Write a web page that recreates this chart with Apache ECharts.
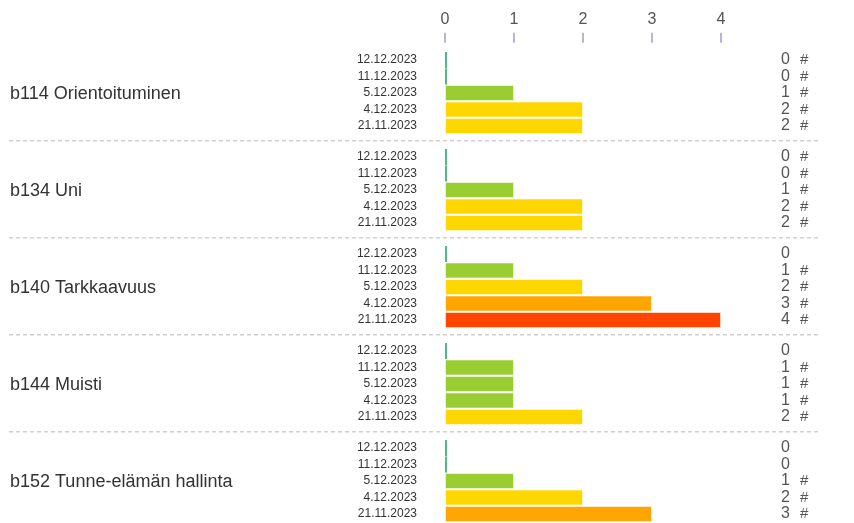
<!DOCTYPE html>
<html>
<head>
<meta charset="utf-8">
<script src="https://cdn.jsdelivr.net/npm/echarts@6/dist/echarts.min.js"></script>
<style>html,body{margin:0;padding:0;background:#fff;}#c{width:854px;height:523px;}</style>
</head>
<body>
<div id="c"></div>
<script>
const groupNames = ['b114 Orientoituminen','b134 Uni','b140 Tarkkaavuus','b144 Muisti','b152 Tunne-elämän hallinta'];
const dates = ['12.12.2023','11.12.2023','5.12.2023','4.12.2023','21.11.2023'];
const values = [
  [0,0,1,2,2],
  [0,0,1,2,2],
  [0,1,2,3,4],
  [0,1,1,1,2],
  [0,0,1,2,3]
];
const hashMarks = [
  [1,1,1,1,1],
  [1,1,1,1,1],
  [0,1,1,1,1],
  [0,1,1,1,1],
  [0,0,1,1,1]
];
const xTicks = [0,1,2,3,4];

const levelColors = ['#4CBB84','#9ACD32','#FFD700','#FFA500','#FF4500'];
const FONT = 'Liberation Sans, Arial, sans-serif';
const firstTop = 51.75, band = 16.5, stride = 97, gridLeft = 445, gridRight = 133;

const grids = [], xAxes = [], yAxes = [], series = [], graphics = [];
values.forEach((vals, g) => {
  const top = firstTop + stride * g;
  grids.push({left: gridLeft, right: gridRight, top: top, height: band * dates.length});
  xAxes.push({
    gridIndex: g, type: 'value', min: xTicks[0], max: xTicks[xTicks.length-1], interval: 1,
    position: 'top', show: g === 0, offset: 9,
    axisLine: {show: false},
    axisTick: {show: true, length: 10, lineStyle: {color: '#a49cc8', width: 1.5}},
    axisLabel: {show: true, margin: 15, color: '#555', fontSize: 16, fontFamily: FONT},
    splitLine: {show: false}
  });
  yAxes.push({
    gridIndex: g, type: 'category', data: dates, inverse: true, position: 'left',
    axisLine: {show: false}, axisTick: {show: false}, splitLine: {show: false},
    axisLabel: {interval: 0, margin: 28, color: '#333', fontSize: 12, fontFamily: FONT}
  });
  yAxes.push({
    gridIndex: g, type: 'category', data: dates, inverse: true, position: 'right',
    axisLine: {show: false}, axisTick: {show: false}, splitLine: {show: false},
    axisLabel: {
      interval: 0, margin: 60, align: 'left', color: '#555', fontSize: 16, fontFamily: FONT,
      formatter: (v, i) => '{n|' + vals[i] + '}' + (hashMarks[g][i] ? '{h|#}' : ''),
      rich: {
        n: {width: 19, fontSize: 16, color: '#555', fontFamily: FONT},
        h: {fontSize: 15, color: '#555', fontFamily: FONT}
      }
    }
  });
  series.push({
    type: 'bar', xAxisIndex: g, yAxisIndex: g * 2,
    barWidth: 16, barMinHeight: 2,
    data: vals.map(v => ({
      value: v,
      itemStyle: v === 0
        ? {color: levelColors[0], borderWidth: 0}
        : {color: levelColors[v], borderColor: 'rgba(255,255,255,0.55)', borderWidth: 1}
    })),
    silent: true, animation: false
  });
  graphics.push({
    type: 'text', left: 10, top: top + band * 2.5 - 8,
    style: {text: groupNames[g], font: '18px ' + FONT, fill: '#333'}
  });
  if (g < values.length - 1) {
    const y = top + band * dates.length + 6.5;
    graphics.push({
      type: 'line', shape: {x1: 9, y1: y, x2: 818, y2: y},
      style: {stroke: '#d0d0d0', lineWidth: 1.5, lineDash: [4, 3]}
    });
  }
});

const chart = echarts.init(document.getElementById('c'), null, {renderer: 'canvas'});
chart.setOption({
  animation: false,
  grid: grids, xAxis: xAxes, yAxis: yAxes, series: series, graphic: graphics
});
</script>
</body>
</html>
